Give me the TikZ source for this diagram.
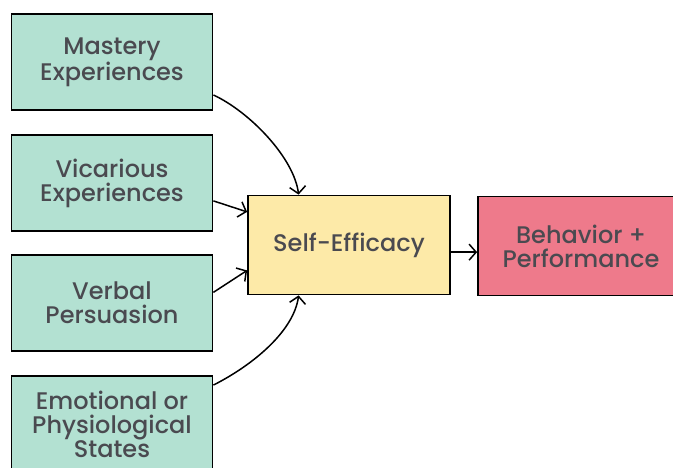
\documentclass[tikz,border=0pt]{standalone}
\usepackage{fontspec}
\setmainfont{Poppins Medium}
\usetikzlibrary{arrows.meta}

\definecolor{srcgreen}{HTML}{B3E1D2}
\definecolor{effyellow}{HTML}{FDEAA8}
\definecolor{outpink}{HTML}{EE7A8B}
\definecolor{txtgray}{HTML}{4A4A50}

\begin{document}
\begin{tikzpicture}[
    x=1pt, y=-1pt,
    every node/.style={draw=black, line width=1.8pt, align=center, inner sep=0pt,
        text=txtgray, font=\fontsize{24}{24}\selectfont},
    source/.style={fill=srcgreen, minimum width=201pt, minimum height=96pt},
    efficacy/.style={fill=effyellow, minimum width=202pt, minimum height=99pt},
    outcome/.style={fill=outpink, minimum width=206pt, minimum height=99pt},
    link/.style={line width=1.5pt, -{Straight Barb[length=7pt,width=16pt]}}
]
    \clip (0,0) rectangle (673,467);

    % the four sources
    \node[source] (mastery)   at (112,62)  {Mastery\\Experiences};
    \node[source] (vicarious) at (112,183) {Vicarious\\Experiences};
    \node[source] (verbal)    at (112,303) {Verbal\\Persuasion};
    \node[source] (emotional) at (112,424) {Emotional or\\Physiological\\States};

    \node[efficacy] (self)     at (349,245) {Self-Efficacy};
    \node[outcome]  (behavior) at (581,246) {Behavior +\\Performance};

    % arrows into self-efficacy
    \draw[link] (mastery.-18) .. controls (250,112) and (294,158) .. (self.135);
    \draw[link] (vicarious.-10) -- (self.162);
    \draw[link] (verbal.6) -- (self.-166);
    \draw[link] (emotional.21) .. controls (255,364) and (294,330) .. (self.-135);

    \draw[link] (self.-4) -- (self.-4 -| behavior.west);
\end{tikzpicture}
\end{document}
